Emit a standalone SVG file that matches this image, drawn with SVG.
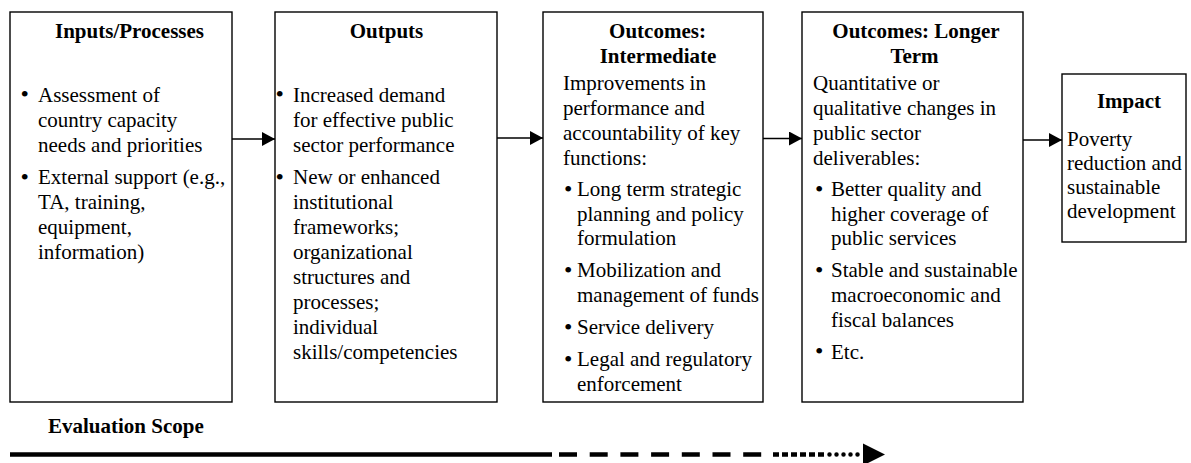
<svg xmlns="http://www.w3.org/2000/svg" width="1191" height="463" viewBox="0 0 1191 463">
  <style>
    .box { fill: #ffffff; stroke: #000000; stroke-width: 1.4; }
    .t { font-family: "Liberation Serif", "Times New Roman", serif; font-size: 21px; fill: #000000; }
    .b { font-family: "Liberation Serif", "Times New Roman", serif; font-size: 24px; fill: #000000; }
    .h { font-family: "Liberation Serif", "Times New Roman", serif; font-size: 21px; font-weight: bold; fill: #000000; text-anchor: middle; }
    .link { stroke: #000000; stroke-width: 1.4; fill: none; }
    .scope { stroke: #000000; stroke-width: 4.5; fill: none; }
  </style>
  <defs>
    <marker id="arrow" viewBox="0 0 13 14" refX="13" refY="7" markerWidth="13" markerHeight="14" markerUnits="userSpaceOnUse" orient="auto">
      <path d="M0,0 L13,7 L0,14 Z" fill="#000000"/>
    </marker>
  </defs>

  <rect width="1191" height="463" fill="#ffffff"/>

  <!-- Inputs / Processes -->
  <g id="inputs">
    <rect class="box" x="10" y="12" width="222" height="390"/>
    <text class="h" x="129.5" y="38">Inputs/Processes</text>
    <text class="b" x="20.5" y="102">•</text>
    <text class="t" x="38" y="101.5">Assessment of</text>
    <text class="t" x="38" y="126.5">country capacity</text>
    <text class="t" x="38" y="151.5">needs and priorities</text>
    <text class="b" x="20.5" y="184.5">•</text>
    <text class="t" x="38" y="184">External support (e.g.,</text>
    <text class="t" x="38" y="209">TA, training,</text>
    <text class="t" x="38" y="234">equipment,</text>
    <text class="t" x="38" y="259">information)</text>
  </g>

  <!-- Outputs -->
  <g id="outputs">
    <rect class="box" x="275" y="12" width="222" height="390"/>
    <text class="h" x="386.5" y="38">Outputs</text>
    <text class="b" x="275.5" y="102">•</text>
    <text class="t" x="293" y="101.5">Increased demand</text>
    <text class="t" x="293" y="126.5">for effective public</text>
    <text class="t" x="293" y="151.5">sector performance</text>
    <text class="b" x="275.5" y="184.5">•</text>
    <text class="t" x="293" y="184">New or enhanced</text>
    <text class="t" x="293" y="209">institutional</text>
    <text class="t" x="293" y="234">frameworks;</text>
    <text class="t" x="293" y="259">organizational</text>
    <text class="t" x="293" y="284">structures and</text>
    <text class="t" x="293" y="309">processes;</text>
    <text class="t" x="293" y="334">individual</text>
    <text class="t" x="293" y="359">skills/competencies</text>
  </g>

  <!-- Outcomes: Intermediate -->
  <g id="outcomes-intermediate">
    <rect class="box" x="543" y="12" width="220" height="390"/>
    <text class="h" x="657.5" y="38">Outcomes:</text>
    <text class="h" x="658" y="63">Intermediate</text>
    <text class="t" x="563" y="90">Improvements in</text>
    <text class="t" x="563" y="115">performance and</text>
    <text class="t" x="563" y="140">accountability of key</text>
    <text class="t" x="563" y="165">functions:</text>
    <text class="b" x="564" y="196.5">•</text>
    <text class="t" x="577" y="196">Long term strategic</text>
    <text class="t" x="577" y="220.7">planning and policy</text>
    <text class="t" x="577" y="245.4">formulation</text>
    <text class="b" x="564" y="277.9">•</text>
    <text class="t" x="577" y="277.4">Mobilization and</text>
    <text class="t" x="577" y="302.1">management of funds</text>
    <text class="b" x="564" y="334.6">•</text>
    <text class="t" x="577" y="334.1">Service delivery</text>
    <text class="b" x="564" y="366.6">•</text>
    <text class="t" x="577" y="366.1">Legal and regulatory</text>
    <text class="t" x="577" y="390.8">enforcement</text>
  </g>

  <!-- Outcomes: Longer Term -->
  <g id="outcomes-longer-term">
    <rect class="box" x="802" y="12" width="221" height="390"/>
    <text class="h" x="916" y="38">Outcomes: Longer</text>
    <text class="h" x="914.5" y="63">Term</text>
    <text class="t" x="813" y="90">Quantitative or</text>
    <text class="t" x="813" y="115">qualitative changes in</text>
    <text class="t" x="813" y="140">public sector</text>
    <text class="t" x="813" y="165">deliverables:</text>
    <text class="b" x="815" y="196.5">•</text>
    <text class="t" x="831" y="196">Better quality and</text>
    <text class="t" x="831" y="220.7">higher coverage of</text>
    <text class="t" x="831" y="245.4">public services</text>
    <text class="b" x="815" y="277.9">•</text>
    <text class="t" x="831" y="277.4">Stable and sustainable</text>
    <text class="t" x="831" y="302.1">macroeconomic and</text>
    <text class="t" x="831" y="326.8">fiscal balances</text>
    <text class="b" x="815" y="359.3">•</text>
    <text class="t" x="831" y="358.8">Etc.</text>
  </g>

  <!-- Impact -->
  <g id="impact">
    <rect class="box" x="1062" y="74" width="124" height="168"/>
    <text class="h" x="1129" y="108">Impact</text>
    <text class="t" x="1067" y="146">Poverty</text>
    <text class="t" x="1067" y="170">reduction and</text>
    <text class="t" x="1067" y="194">sustainable</text>
    <text class="t" x="1067" y="218">development</text>
  </g>

  <!-- Connectors between stages -->
  <g id="connectors">
    <line class="link" x1="232" y1="139" x2="275" y2="139" marker-end="url(#arrow)"/>
    <line class="link" x1="497" y1="138" x2="543" y2="138" marker-end="url(#arrow)"/>
    <line class="link" x1="763" y1="138.5" x2="802" y2="138.5" marker-end="url(#arrow)"/>
    <line class="link" x1="1023" y1="140" x2="1062" y2="140" marker-end="url(#arrow)"/>
  </g>

  <!-- Evaluation scope bar: solid, dashed, square dots, round dots, arrowhead -->
  <g id="evaluation-scope">
    <text class="t" x="48" y="433" font-weight="bold">Evaluation Scope</text>
    <line class="scope" x1="10" y1="454.5" x2="552" y2="454.5"/>
    <line class="scope" x1="559" y1="454.5" x2="763" y2="454.5" stroke-dasharray="18 12.7"/>
    <line class="scope" x1="773" y1="454.5" x2="827" y2="454.5" stroke-dasharray="6 3"/>
    <line class="scope" x1="829.5" y1="454.5" x2="858" y2="454.5" stroke-dasharray="0 7" stroke-linecap="round"/>
    <path d="M863,443.5 L885,454.5 L863,465.5 Z" fill="#000000"/>
  </g>
</svg>
